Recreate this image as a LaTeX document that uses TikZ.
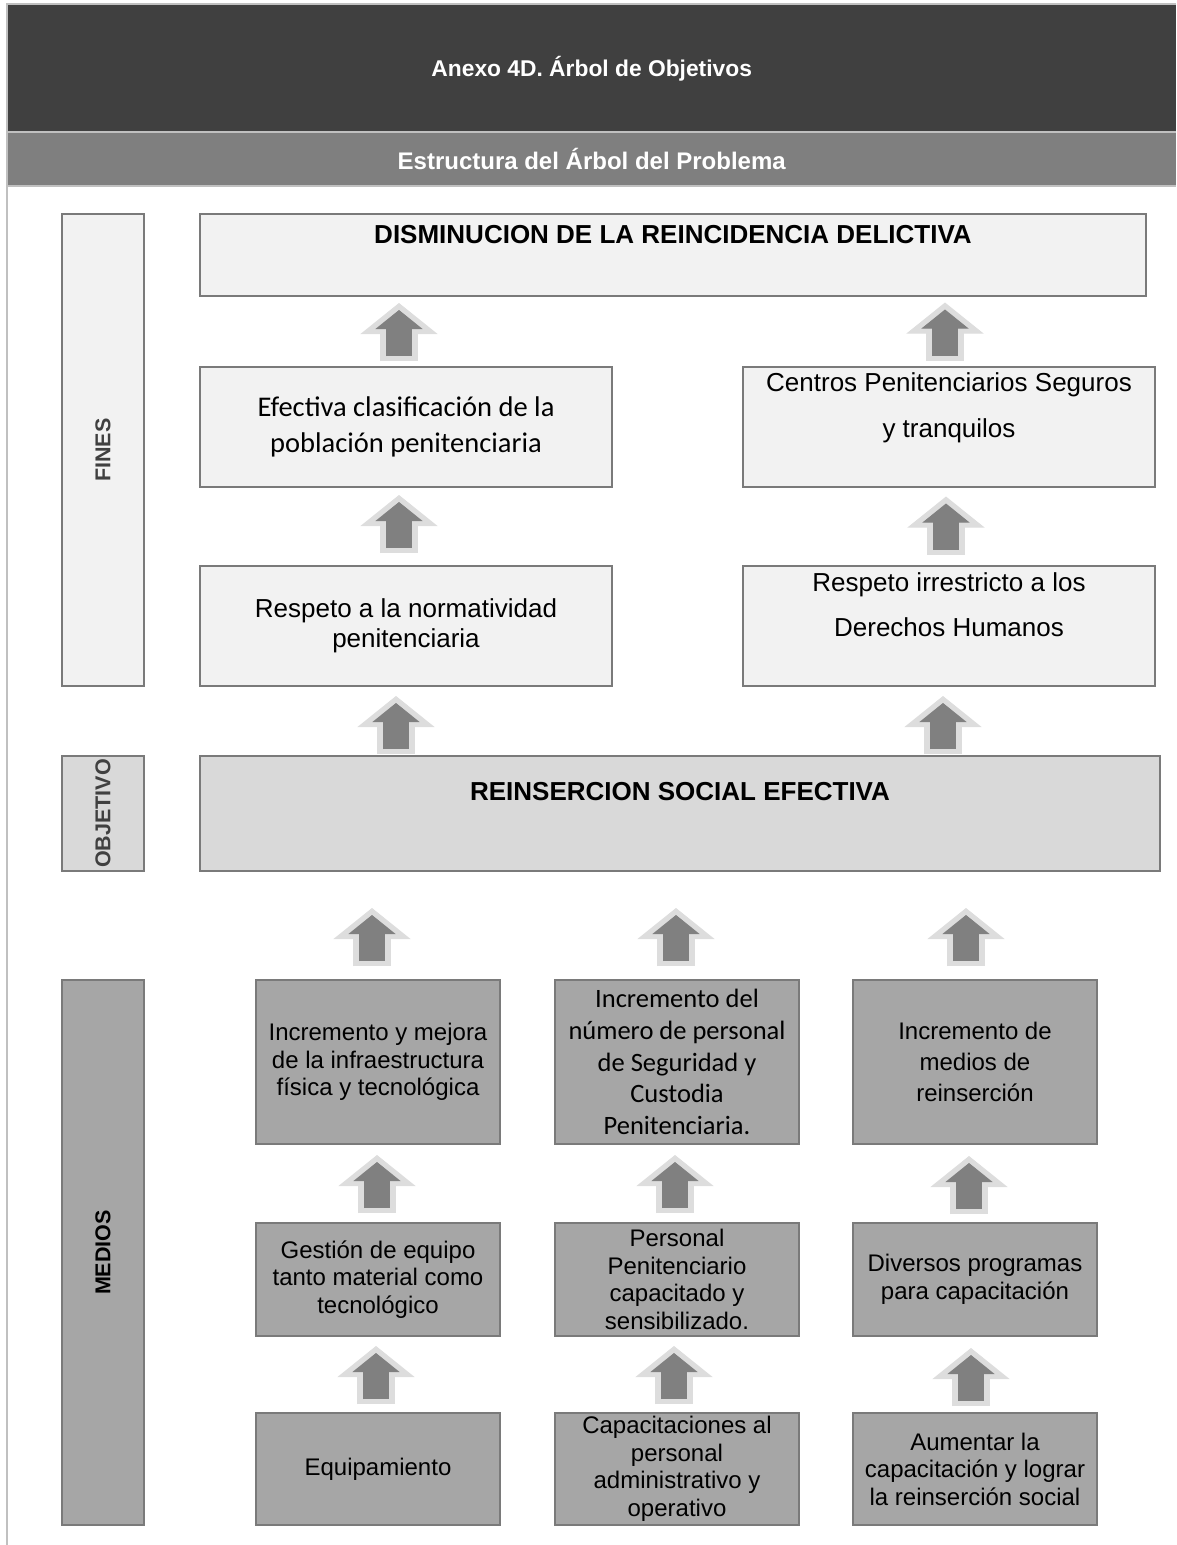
\documentclass[tikz,border=0pt]{standalone}
\usepackage{fontspec}
\setmainfont{Liberation Sans}
\newfontfamily\calib{Carlito}
\usetikzlibrary{calc,arrows.meta}
\definecolor{hdrdark}{HTML}{404040}
\definecolor{hdrmid}{HTML}{7F7F7F}
\definecolor{framegray}{HTML}{C0C0C0}
\definecolor{boxline}{HTML}{7A7A7A}
\definecolor{finesfill}{HTML}{F2F2F2}
\definecolor{objfill}{HTML}{D9D9D9}
\definecolor{medfill}{HTML}{A6A6A6}
\definecolor{arrdark}{HTML}{808080}
\definecolor{arrlight}{HTML}{DDDDDD}
\definecolor{lbltext}{HTML}{404040}
\tikzset{
    band/.style={
        anchor=north west,inner sep=0pt,text=white,
        font=\bfseries\fontsize{#1}{28}\selectfont
    },
    box/.style={
        draw=boxline,line width=1.5pt,fill=#1,inner sep=0pt,align=center
    },
    box/.default=finesfill,
    sidelbl/.style={
        box=#1,rotate=90,minimum height=82pt,text=lbltext,
        font=\bfseries\fontsize{21.5}{24}\selectfont
    },
    boxtxt/.style={
        anchor=north,inner sep=0pt,align=center
    },
    arrin/.style={
        draw=arrdark,line width=26pt,
        -{Triangle[width=47pt,length=19pt,line width=1pt]}
    },
    arrout/.style={
        draw=arrlight,line width=38pt,shorten <=-5pt,shorten >=-7pt,
        -{Triangle[width=77pt,length=31pt,line width=1pt]}
    }
}

\begin{document}
\begin{tikzpicture}[x=1pt,y=-1pt]
\useasboundingbox (0,0) rectangle (1176,1545);

% header
\node[band=22.8,fill=hdrdark,minimum width=1169pt,minimum height=127pt]
(title) at (7,5) {Anexo 4D. Árbol de Objetivos};
\node[band=24,fill=hdrmid,minimum width=1169pt,minimum height=54pt]
(subtitle) at (7,132) {Estructura del Árbol del Problema};
\draw[framegray,line width=2pt] (7,4) -- (1176,4);
\draw[framegray,line width=2pt] (title.south west) -- (title.south east);
\draw[framegray,line width=2pt] (subtitle.south west) -- (subtitle.south east);
\draw[framegray,line width=2pt] (7,3) -- (7,1545);

% side labels
\node[sidelbl=finesfill,minimum width=472pt] (fines) at (103,450) {FINES};
\node[sidelbl=objfill,minimum width=115pt] (objet) at (103,813.5) {OBJETIVO};
\node[sidelbl=medfill,minimum width=545pt,text=black] (medios) at (103,1252.5) {MEDIOS};

% fines
\node[box,minimum width=946pt,minimum height=82pt] (dis) at (673,255) {};
\node[boxtxt,font=\bfseries\fontsize{26}{30}\selectfont]
(dis-t) at ($(dis.north)+(0,12)$) {DISMINUCION DE LA REINCIDENCIA DELICTIVA};

\node[box,minimum width=412pt,minimum height=120pt,
font=\calib\fontsize{28.5}{36}\selectfont]
(efec) at (406,427) {Efectiva clasificación de la\\población penitenciaria};

\node[box,minimum width=412pt,minimum height=120pt] (cent) at (949,427) {};
\node[boxtxt,font=\fontsize{26}{46}\selectfont]
(cent-t) at ($(cent.north)+(0,6)$) {Centros Penitenciarios Seguros\\y tranquilos};

\node[box,minimum width=412pt,minimum height=120pt,
font=\fontsize{26}{30}\selectfont]
(resp) at (406,626) {Respeto a la normatividad\\penitenciaria};

\node[box,minimum width=412pt,minimum height=120pt] (rder) at (949,626) {};
\node[boxtxt,font=\fontsize{26}{45}\selectfont]
(rder-t) at ($(rder.north)+(0,7)$) {Respeto irrestricto a los\\Derechos Humanos};

% objetivo
\node[box=objfill,minimum width=960pt,minimum height=115pt] (reins) at (680,813.5) {};
\node[boxtxt,font=\bfseries\fontsize{26}{30}\selectfont]
(reins-t) at ($(reins.north)+(0,27)$) {REINSERCION SOCIAL EFECTIVA};

% medios
\begin{scope}[every node/.style={box=medfill,minimum width=244pt,
    font=\fontsize{24}{27.5}\selectfont}]
\node[minimum height=164pt] (m11) at (378,1062)
{Incremento y mejora\\de la infraestructura\\física y tecnológica};
\node[minimum height=164pt,font=\calib\fontsize{26.5}{31.7}\selectfont] (m12) at (677,1062)
{Incremento del\\número de personal\\de Seguridad y\\Custodia\\Penitenciaria.};
\node[minimum height=164pt,font=\fontsize{24}{31}\selectfont] (m13) at (975,1062)
{Incremento de\\medios de\\reinserción};

\node[minimum height=113pt] (m21) at (378,1279.5)
{Gestión de equipo\\tanto material como\\tecnológico};
\node[minimum height=113pt] (m22) at (677,1279.5)
{Personal\\Penitenciario\\capacitado y\\sensibilizado.};
\node[minimum height=113pt] (m23) at (975,1279.5)
{Diversos programas\\para capacitación};

\node[minimum height=112pt] (m31) at (378,1469) {Equipamiento};
\node[minimum height=112pt] (m32) at (677,1469)
{Capacitaciones al\\personal\\administrativo y\\operativo};
\node[minimum height=112pt] (m33) at (975,1469)
{Aumentar la\\capacitación y lograr\\la reinserción social};
\end{scope}

% block arrows: from / to / column / x and y offset
\foreach \s/\d/\c/\dx/\dy in {
    efec/dis/efec/-7/0.5, cent/dis/cent/-4/0,
    resp/efec/resp/-7/-2.5, rder/cent/rder/-3/-1,
    reins/resp/resp/-10/4, reins/rder/rder/-6/4,
    m11/reins/m11/-6/11.5, m12/reins/m12/-1/11.5, m13/reins/m13/-9/11.5,
    m21/m11/m21/-1/0.5, m22/m12/m22/-2/0.5, m23/m13/m23/-6/1.5,
    m31/m21/m31/-2/0.5, m32/m22/m32/-3/0.5, m33/m23/m33/-4/2.5}{
    \coordinate (m) at ($(\c |- \s.north)!.5!(\c |- \d.south)+(\dx,\dy)$);
    \draw[arrout] ($(m)+(0,24)$) -- ($(m)+(0,-22)$);
    \draw[arrin] ($(m)+(0,24)$) -- ($(m)+(0,-22)$);
}

\end{tikzpicture}
\end{document}
